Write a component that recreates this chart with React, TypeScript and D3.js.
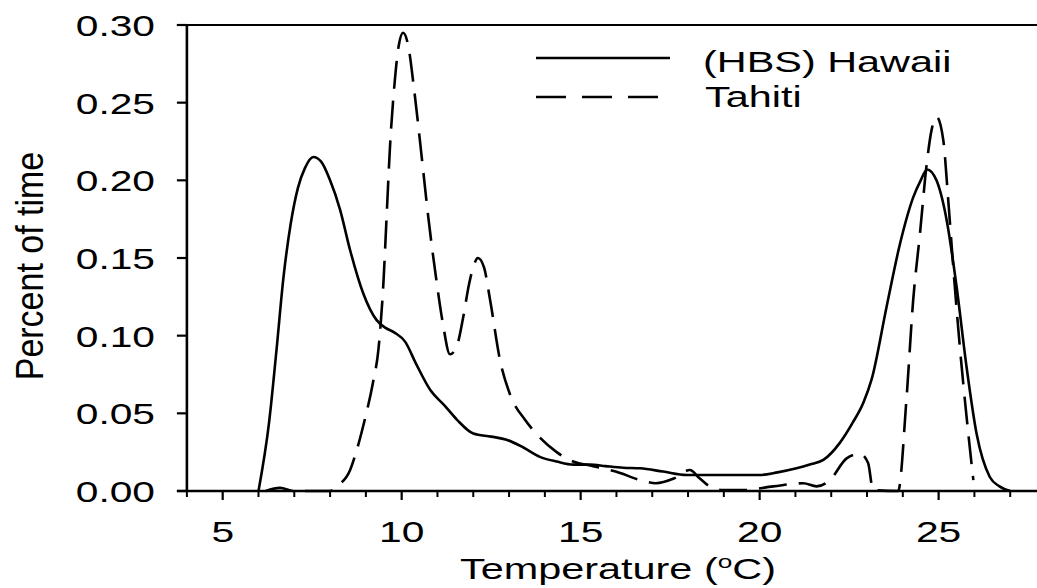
import * as d3 from "d3"

const FONT = "'Liberation Sans', Arial, Helvetica, sans-serif"
// the original figure is stretched sideways, so text gets a horizontal scale
const SX = 1.38

// Hawaii (HBS), solid line
const hawaiiTemp = [
  6.0, 6.3, 6.5, 6.7, 6.9, 7.1, 7.3, 7.53, 7.75, 8.0, 8.28, 8.56, 8.93, 9.3, 9.55, 9.8,
  10.1, 10.4, 10.8, 11.2, 11.54, 12.0, 12.5, 12.93, 13.4, 13.86, 14.33, 14.8, 15.26, 15.7,
  16.19, 16.66, 17.3, 17.96, 19.0, 20.0, 20.5, 21.03, 21.4, 21.78, 22.24, 22.6, 22.9,
  23.13, 23.55, 23.92, 24.29, 24.5, 24.68, 24.94, 25.22, 25.5, 25.78, 26.06, 26.43,
  26.7, 27.0,
]
const hawaiiPct = [
  0, 0.045, 0.09, 0.138, 0.172, 0.195, 0.208, 0.215, 0.212, 0.2, 0.181, 0.155, 0.127,
  0.11, 0.105, 0.102, 0.096, 0.082, 0.065, 0.055, 0.046, 0.037, 0.035, 0.033, 0.028,
  0.022, 0.019, 0.017, 0.017, 0.016, 0.015, 0.0146, 0.0125, 0.0103, 0.0103, 0.0103,
  0.012, 0.0146, 0.017, 0.02, 0.031, 0.044, 0.057, 0.072, 0.119, 0.159, 0.189, 0.2,
  0.207, 0.2, 0.175, 0.132, 0.08, 0.037, 0.009, 0.003, 0,
]

// Tahiti, dashed line
const tahitiTemp = [
  6.2, 6.6, 7.0, 8.0, 8.18, 8.56, 8.74, 8.97, 9.2, 9.35, 9.49, 9.58, 9.67, 9.8, 9.92,
  10.04, 10.18, 10.35, 10.56, 10.74, 10.98, 11.15, 11.35, 11.55, 11.72, 11.88, 12.0,
  12.13, 12.3, 12.47, 12.75, 13.03, 13.44, 13.68, 14.33, 14.79, 15.35, 16.0, 16.66,
  17.1, 17.6, 18.05, 18.33, 18.6, 18.98, 19.54, 20.38, 21.22, 21.59, 21.96, 22.43,
  22.8, 23.03, 23.17, 23.87, 24.1, 24.29, 24.48, 24.66, 24.8, 24.94, 25.13, 25.27,
  25.41, 25.6, 25.78, 25.97,
]
const tahitiPct = [
  0, 0.002, 0, 0, 0.003, 0.0135, 0.026, 0.046, 0.07, 0.091, 0.134, 0.177, 0.22, 0.262,
  0.287, 0.295, 0.287, 0.258, 0.215, 0.177, 0.134, 0.108, 0.088, 0.094, 0.112, 0.133,
  0.144, 0.15, 0.144, 0.123, 0.084, 0.062, 0.046, 0.039, 0.025, 0.019, 0.016, 0.0124,
  0.0071, 0.005, 0.008, 0.0135, 0.008, 0.003, 0.0006, 0.0006, 0.003, 0.005, 0.003,
  0.007, 0.021, 0.024, 0.018, 0.0006, 0, 0.0586, 0.123, 0.166, 0.209, 0.232, 0.241,
  0.226, 0.187, 0.144, 0.091, 0.048, 0.007,
]

const yTicks = [0, 0.05, 0.1, 0.15, 0.2, 0.25, 0.3]
const xMajorTicks = [5, 10, 15, 20, 25]
const xMinorTicks = [4, 6, 7, 8, 9, 11, 12, 13, 14, 16, 17, 18, 19, 21, 22, 23, 24, 26, 27]
const legendLabels = ["(HBS) Hawaii", "Tahiti"]

const DASH = "28,12"

export default function App() {
  const width = 1037
  const height = 588

  const x = d3.scaleLinear().domain([4, 28]).range([186.9, 1046])
  const y = d3.scaleLinear().domain([0, 0.3]).range([491, 25])

  const line = d3
    .line<[number, number]>()
    .x((d) => x(d[0]))
    .y((d) => y(d[1]))
    .curve(d3.curveMonotoneX)

  const hawaii = hawaiiTemp.map((t, i) => [t, hawaiiPct[i]] as [number, number])
  const tahiti = tahitiTemp.map((t, i) => [t, tahitiPct[i]] as [number, number])

  const x0 = x(4)
  const yTop = y(0.3)
  const yBase = y(0)

  return (
    <svg
      width={width}
      height={height}
      style={{ position: "absolute", left: 0, top: 0, background: "#fff" }}
      fontFamily={FONT}
    >
      <rect width={width} height={height} fill="#fff" />

      {/* curves */}
      <path d={line(tahiti) || ""} fill="none" stroke="#000" strokeWidth={2.6} strokeDasharray={DASH} />
      <path d={line(hawaii) || ""} fill="none" stroke="#000" strokeWidth={2.6} />

      {/* frame */}
      <line x1={x0} x2={x0} y1={yTop} y2={yBase} stroke="#000" strokeWidth={2.6} />
      <line x1={x0 - 10} x2={width + 10} y1={yBase} y2={yBase} stroke="#000" strokeWidth={2.6} />
      <line x1={x0 - 10} x2={width + 10} y1={yTop} y2={yTop} stroke="#000" strokeWidth={2.2} />

      {/* y ticks */}
      {yTicks.map((v) => (
        <g key={v}>
          <line x1={x0 - 10} x2={x0} y1={y(v)} y2={y(v)} stroke="#000" strokeWidth={2.2} />
          <text
            transform={`translate(155,${y(v) + 11}) scale(${SX},1)`}
            textAnchor="end"
            fontSize={29.5}
          >
            {d3.format(".2f")(v)}
          </text>
        </g>
      ))}

      {/* x ticks */}
      {xMinorTicks.map((t) => (
        <line key={"m" + t} x1={x(t)} x2={x(t)} y1={yBase} y2={yBase + 6} stroke="#000" strokeWidth={2} />
      ))}
      {xMajorTicks.map((t) => (
        <g key={t}>
          <line x1={x(t)} x2={x(t)} y1={yBase} y2={yBase + 9} stroke="#000" strokeWidth={2.2} />
          <text
            transform={`translate(${x(t)},542) scale(${SX},1)`}
            textAnchor="middle"
            fontSize={29.5}
          >
            {t}
          </text>
        </g>
      ))}

      {/* axis titles */}
      <text transform={`translate(618,579) scale(${SX},1)`} textAnchor="middle" fontSize={30}>
        Temperature (<tspan fontSize={19} dy={-11}>o</tspan>
        <tspan dy={11}>C)</tspan>
      </text>
      <text
        transform={`translate(43,266) scale(1.14,1) rotate(-90)`}
        textAnchor="middle"
        fontSize={34}
      >
        Percent of time
      </text>

      {/* legend */}
      <line x1={536} x2={670} y1={58} y2={58} stroke="#000" strokeWidth={2.6} />
      <line x1={536} x2={660} y1={97} y2={97} stroke="#000" strokeWidth={2.6} strokeDasharray="30,16" />
      <text transform={`translate(703,72) scale(${SX},1)`} fontSize={30}>
        {legendLabels[0]}
      </text>
      <text transform={`translate(705,107) scale(${SX},1)`} fontSize={30}>
        {legendLabels[1]}
      </text>
    </svg>
  )
}
